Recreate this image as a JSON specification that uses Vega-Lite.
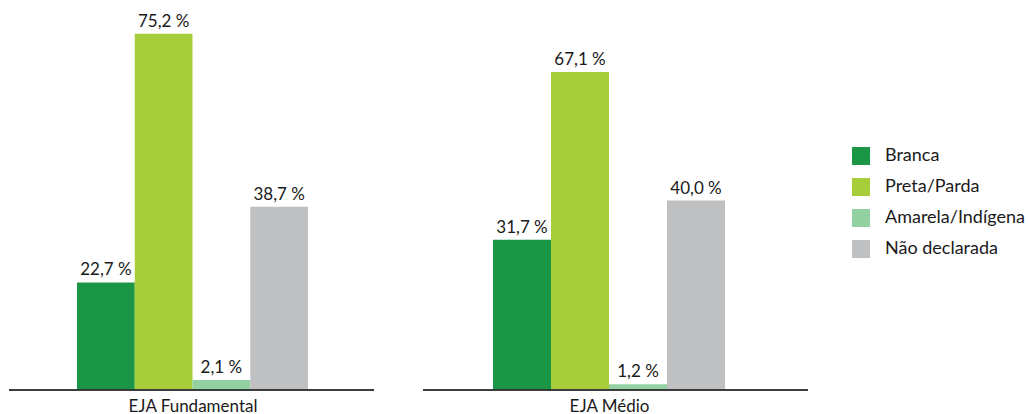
{
  "$schema": "https://vega.github.io/schema/vega-lite/v6.json",
  "padding": {"left": 8, "top": 11, "right": 0, "bottom": 0},
  "background": "white",
  "data": {"values": [
    {"nivel": "EJA Fundamental", "raca": "Branca", "pct": 22.7},
    {"nivel": "EJA Fundamental", "raca": "Preta/Parda", "pct": 75.2},
    {"nivel": "EJA Fundamental", "raca": "Amarela/Indígena", "pct": 2.1},
    {"nivel": "EJA Fundamental", "raca": "Não declarada", "pct": 38.7},
    {"nivel": "EJA Médio", "raca": "Branca", "pct": 31.7},
    {"nivel": "EJA Médio", "raca": "Preta/Parda", "pct": 67.1},
    {"nivel": "EJA Médio", "raca": "Amarela/Indígena", "pct": 1.2},
    {"nivel": "EJA Médio", "raca": "Não declarada", "pct": 40.0}
  ]},
  "transform": [
    {"calculate": "replace(format(datum.pct, '.1f'), '.', ',') + ' %'", "as": "rotulo"}
  ],
  "spacing": 47,
  "hconcat": [
    {
      "width": 365,
      "height": 379,
      "transform": [{"filter": "datum.nivel == 'EJA Fundamental'"}],
      "encoding": {
        "x": {"field": "raca", "type": "nominal", "sort": ["Branca", "Preta/Parda", "Amarela/Indígena", "Não declarada"],
              "scale": {"paddingInner": 0, "paddingOuter": 0, "range": [68, 299]},
              "axis": {"labels": false, "ticks": false, "domain": false, "title": "EJA Fundamental", "titleFontSize": 17, "titleFontWeight": "normal", "titleFont": "Lato", "titleColor": "#1a1a1a", "titlePadding": 8}},
        "y": {"field": "pct", "type": "quantitative", "scale": {"domain": [0, 80]}, "axis": null}
      },
      "layer": [
        {"mark": {"type": "bar", "width": {"band": 1}},
         "encoding": {"color": {"field": "raca", "type": "nominal", "sort": ["Branca", "Preta/Parda", "Amarela/Indígena", "Não declarada"],
            "scale": {"domain": ["Branca", "Preta/Parda", "Amarela/Indígena", "Não declarada"], "range": ["#1b9646", "#a8cd3b", "#93d1a2", "#bfc0c2"]},
            "legend": {"orient": "none", "legendX": 843, "legendY": 136, "title": null, "symbolType": "square", "symbolSize": 324, "symbolStrokeWidth": 0, "labelFontSize": 18, "labelFont": "Lato", "labelColor": "#1a1a1a", "labelOffset": 15, "rowPadding": 13}}}},
        {"mark": {"type": "rule", "color": "#333333", "strokeWidth": 1.2},
         "encoding": {"y": {"datum": 0}, "x": null}},
        {"mark": {"type": "text", "baseline": "bottom", "dy": -3, "fontSize": 17, "font": "Lato", "color": "#1a1a1a"},
         "encoding": {"text": {"field": "rotulo"}}}
      ]
    },
    {
      "width": 385,
      "height": 379,
      "transform": [{"filter": "datum.nivel == 'EJA Médio'"}],
      "encoding": {
        "x": {"field": "raca", "type": "nominal", "sort": ["Branca", "Preta/Parda", "Amarela/Indígena", "Não declarada"],
              "scale": {"paddingInner": 0, "paddingOuter": 0, "range": [70, 302]},
              "axis": {"labels": false, "ticks": false, "domain": false, "title": "EJA Médio", "titleFontSize": 17, "titleFontWeight": "normal", "titleFont": "Lato", "titleColor": "#1a1a1a", "titlePadding": 8}},
        "y": {"field": "pct", "type": "quantitative", "scale": {"domain": [0, 80]}, "axis": null}
      },
      "layer": [
        {"mark": {"type": "bar", "width": {"band": 1}},
         "encoding": {"color": {"field": "raca", "type": "nominal", "sort": ["Branca", "Preta/Parda", "Amarela/Indígena", "Não declarada"],
            "scale": {"domain": ["Branca", "Preta/Parda", "Amarela/Indígena", "Não declarada"], "range": ["#1b9646", "#a8cd3b", "#93d1a2", "#bfc0c2"]}}}},
        {"mark": {"type": "rule", "color": "#333333", "strokeWidth": 1.2},
         "encoding": {"y": {"datum": 0}, "x": null}},
        {"mark": {"type": "text", "baseline": "bottom", "dy": -3, "fontSize": 17, "font": "Lato", "color": "#1a1a1a"},
         "encoding": {"text": {"field": "rotulo"}}}
      ]
    }
  ],
  "resolve": {"scale": {"x": "independent"}},
  "config": {"view": {"stroke": null}}
}
